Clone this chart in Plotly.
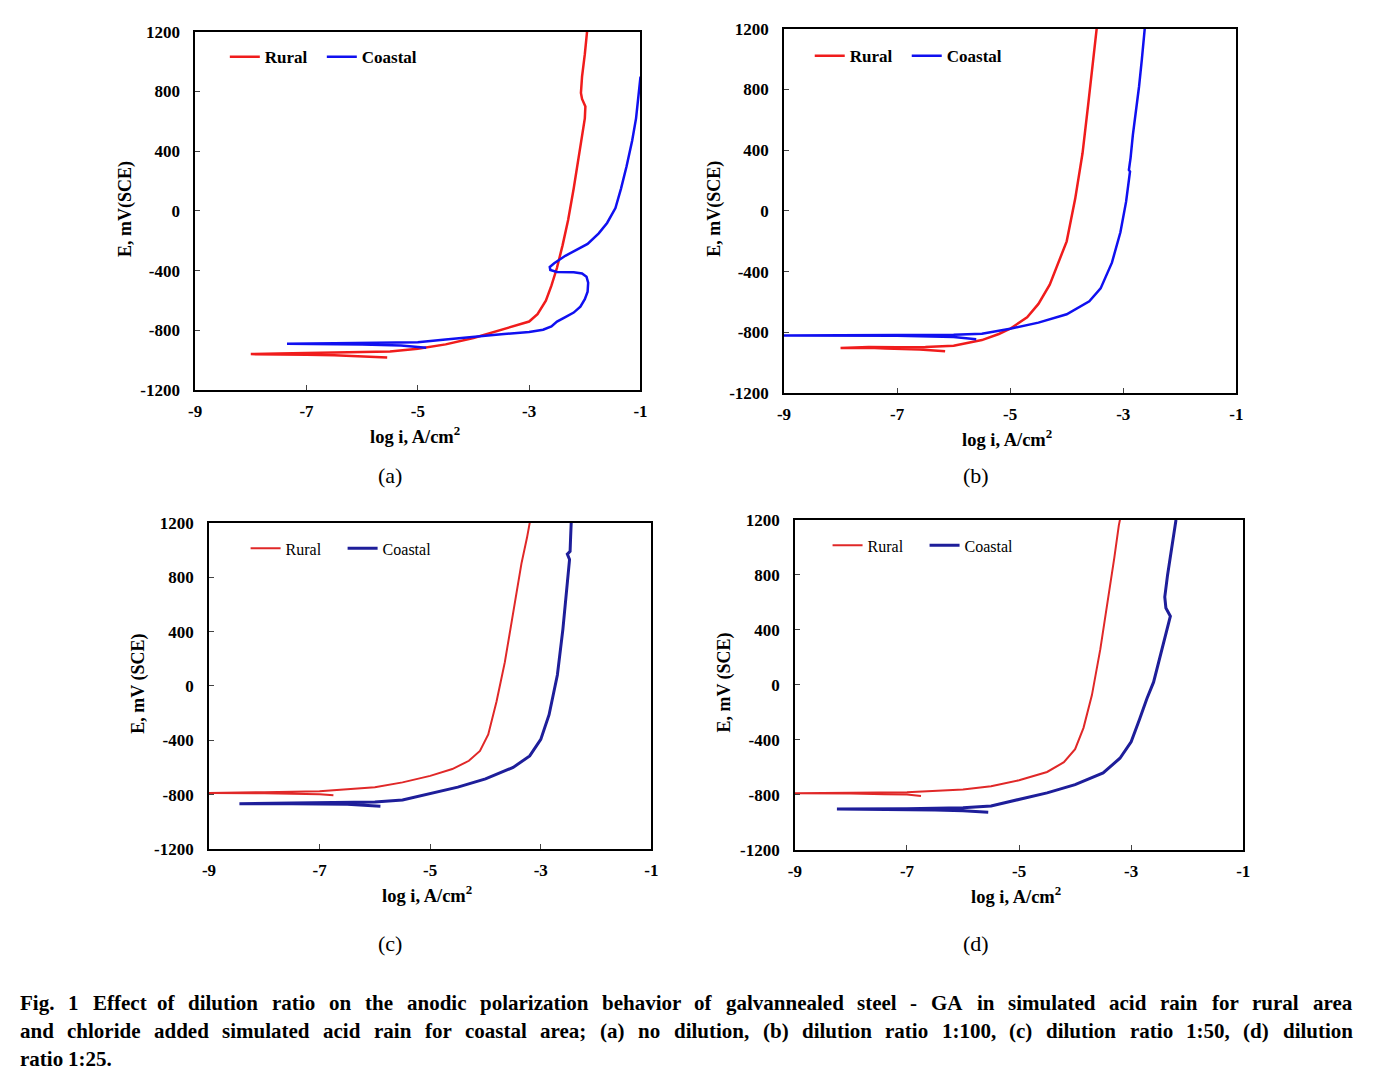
import plotly.graph_objects as go

# page is 1377x1087; the browser's default 8px body margin surrounds the figure
PAD = 8
W, H = 1377 - 2 * PAD, 1087 - 2 * PAD

# %% data (log i in A/cm2, E in mV vs SCE)
a_rural_x = [-5.55, -6.0, -6.5, -7.0, -7.5, -8.0, -7.5, -7.0, -6.0, -5.5, -5.0, -4.5, -4.0, -3.5, -3.2, -3.0,
             -2.85, -2.7, -2.6, -2.5, -2.4, -2.3, -2.2, -2.1, -2.05, -2.0, -1.99, -2.05, -2.07, -2.05, -2.0, -1.96]
a_rural_y = [-980, -972, -966, -963, -961, -958, -954, -951, -948, -940, -922, -893, -850, -795, -765, -740,
             -690, -600, -500, -380, -230, -60, 150, 380, 520, 620, 700, 750, 790, 900, 1050, 1200]
a_coastal_x = [-4.85, -5.3, -6.0, -7.0, -7.35, -6.5, -5.5, -5.0, -4.5, -4.0, -3.5, -3.0, -2.75, -2.6, -2.5,
               -2.35, -2.2, -2.08, -2.0, -1.95, -1.94, -1.97, -2.05, -2.2, -2.5, -2.62, -2.63, -2.55, -2.35,
               -2.1, -1.95, -1.75, -1.6, -1.45, -1.35, -1.25, -1.15, -1.08, -1.03, -1.0]
a_coastal_y = [-915, -900, -893, -890, -888, -885, -882, -878, -860, -840, -825, -810, -795, -772, -740,
               -710, -680, -640, -590, -540, -480, -440, -418, -410, -408, -395, -375, -350, -300,
               -250, -220, -150, -80, 20, 150, 300, 470, 620, 780, 900]

b_rural_x = [-6.15, -6.6, -7.2, -7.5, -8.0, -7.5, -7.0, -6.5, -6.0, -5.5, -5.2, -5.0, -4.7, -4.5, -4.3,
             -4.15, -4.0, -3.85, -3.72, -3.62, -3.55, -3.47]
b_rural_y = [-924, -912, -905, -900, -902, -896, -898, -895, -887, -850, -810, -775, -700, -612, -485,
             -340, -200, 80, 380, 700, 950, 1200]
b_coastal_x = [-5.6, -6.0, -7.0, -8.0, -9.0, -8.0, -7.0, -6.0, -5.5, -5.0, -4.5, -4.0, -3.6, -3.4, -3.2,
               -3.05, -2.95, -2.9, -2.88, -2.9, -2.87, -2.83, -2.78, -2.72, -2.67, -2.62]
b_coastal_y = [-844, -830, -822, -820, -820, -818, -817, -815, -808, -775, -735, -680, -595, -510, -340,
               -140, 60, 200, 260, 270, 350, 500, 640, 820, 1000, 1200]

c_rural_x = [-6.75, -7.0, -8.0, -9.0, -8.0, -7.0, -6.0, -5.5, -5.0, -4.6, -4.3, -4.1, -3.95, -3.8, -3.65,
             -3.5, -3.35, -3.25, -3.2]
c_rural_y = [-805, -797, -790, -788, -782, -776, -745, -710, -662, -612, -551, -478, -357, -115, 175,
             539, 900, 1090, 1200]
c_coastal_x = [-5.9, -6.5, -7.5, -8.45, -7.5, -6.5, -6.0, -5.5, -5.0, -4.5, -4.0, -3.5, -3.2, -3.0, -2.85,
               -2.7, -2.6, -2.52, -2.48, -2.52, -2.47, -2.46, -2.45]
c_coastal_y = [-886, -870, -868, -867, -862, -858, -854, -840, -795, -745, -684, -600, -515, -394, -212,
               80, 418, 733, 930, 970, 990, 1100, 1200]

d_rural_x = [-6.75, -7.0, -7.4, -8.0, -9.0, -8.0, -7.0, -6.0, -5.5, -5.0, -4.5, -4.2, -4.0, -3.85, -3.7,
             -3.55, -3.4, -3.3, -3.22, -3.2]
d_rural_y = [-807, -797, -795, -790, -788, -784, -781, -760, -736, -693, -633, -562, -467, -312, -74,
             260, 640, 926, 1160, 1200]
d_coastal_x = [-5.55, -6.0, -6.5, -7.5, -8.25, -7.0, -6.0, -5.5, -5.0, -4.5, -4.0, -3.5, -3.2, -3.0, -2.85,
               -2.72, -2.6, -2.5, -2.4, -2.33, -2.3, -2.38, -2.4, -2.35, -2.28, -2.2]
d_coastal_y = [-926, -915, -910, -905, -902, -900, -893, -880, -832, -785, -725, -640, -533, -414, -250,
               -100, 20, 180, 350, 450, 500, 560, 640, 800, 1000, 1200]

x_ticks = [-9, -7, -5, -3, -1]
y_ticks = [-1200, -800, -400, 0, 400, 800, 1200]
panel_labels = ["(a)", "(b)", "(c)", "(d)"]
x_title = "log i, A/cm<sup>2</sup>"
y_titles = ["E, mV(SCE)", "E, mV(SCE)", "E, mV (SCE)", "E, mV (SCE)"]
caption = ["Fig. 1 Effect of dilution ratio on the anodic polarization behavior of galvannealed steel - GA in simulated acid rain for rural area",
           "and chloride added simulated acid rain for coastal area; (a) no dilution, (b) dilution ratio 1:100, (c) dilution ratio 1:50, (d) dilution",
           "ratio 1:25."]

# %% panel geometry in page pixels: left, right, top, bottom of plot area
boxes = [(190, 640, 23, 388), (785, 1242, 20, 391), (204, 651, 523, 855), (796, 1249, 520, 856)]
label_pos = [(387, 475), (979, 475), (387, 951), (979, 951)]
legend_pos = [(220, 49), (811, 48), (241, 549), (829, 546)]
series = [(a_rural_x, a_rural_y, a_coastal_x, a_coastal_y),
          (b_rural_x, b_rural_y, b_coastal_x, b_coastal_y),
          (c_rural_x, c_rural_y, c_coastal_x, c_coastal_y),
          (d_rural_x, d_rural_y, d_coastal_x, d_coastal_y)]
red = ["#f01c1c", "#f01c1c", "#e02828", "#e02828"]
blue = ["#1010f0", "#1010f0", "#1e1e9a", "#1e1e9a"]
wid_r = [2.5, 2.5, 2.0, 2.0]
wid_b = [2.5, 2.5, 3.0, 3.0]
bold_leg = [True, True, False, False]

SERIF = "Liberation Serif"

# rough Times-Bold advance widths (per 1000 em) to justify the caption lines
TB = {" ": 250, ",": 250, ".": 250, "-": 333, ":": 333, ";": 333, "(": 333, ")": 333,
      "A": 722, "C": 722, "F": 611, "G": 778,
      "a": 500, "b": 556, "c": 444, "d": 556, "e": 444, "f": 333, "g": 500, "h": 556, "i": 278,
      "j": 333, "k": 556, "l": 278, "m": 833, "n": 556, "o": 500, "p": 556, "q": 556, "r": 444,
      "s": 389, "t": 333, "u": 556, "v": 500, "w": 722, "x": 500, "y": 500, "z": 444}


def text_w(s, size):
    return sum(TB.get(ch, 500) for ch in s) * size / 1000.0


def fx(p):
    return (p - PAD) / W


def fy(p):
    return 1 - (p - PAD) / H


fig = go.Figure()
layout = dict(width=W, height=H, margin=dict(l=0, r=0, t=0, b=0), plot_bgcolor="white",
              paper_bgcolor="white", font=dict(family=SERIF, color="black"), annotations=[])

for i, (l, r, t, b) in enumerate(boxes):
    n = "" if i == 0 else str(i + 1)
    xr, yr, xc, yc = series[i]
    leg = "legend" + n
    nm = (lambda s: f"<b>{s}</b>") if bold_leg[i] else (lambda s: s)
    fig.add_trace(go.Scatter(x=xr, y=yr, mode="lines", name=nm("Rural"), legend=leg,
                             xaxis="x" + n, yaxis="y" + n, line=dict(color=red[i], width=wid_r[i])))
    fig.add_trace(go.Scatter(x=xc, y=yc, mode="lines", name=nm("Coastal"), legend=leg,
                             xaxis="x" + n, yaxis="y" + n, line=dict(color=blue[i], width=wid_b[i])))
    axfont = dict(family=SERIF, size=17, color="black")
    layout["xaxis" + n] = dict(domain=[fx(l), fx(r)], anchor="y" + n, range=[-9, -1], tickvals=x_ticks,
                               ticktext=[f"<b>{v}</b>" for v in x_ticks], ticks="inside", ticklen=5,
                               ticklabelstandoff=5,
                               showline=True, linecolor="black", linewidth=1.6, mirror=True,
                               showgrid=False, zeroline=False, tickfont=axfont)
    layout["yaxis" + n] = dict(domain=[fy(b), fy(t)], anchor="x" + n, range=[-1200, 1200],
                               tickvals=y_ticks, ticktext=[f"<b>{v}</b>" for v in y_ticks], ticks="inside",
                               ticklen=5, ticklabelstandoff=10, showline=True, linecolor="black",
                               linewidth=1.6, mirror=True, showgrid=False, zeroline=False, tickfont=axfont)
    lf = dict(family=SERIF, size=17 if bold_leg[i] else 16, color="black")
    lx, ly = legend_pos[i]
    layout[leg] = dict(x=fx(lx), y=fy(ly), xanchor="left", yanchor="middle",
                       orientation="h", bgcolor="rgba(0,0,0,0)", font=lf, itemwidth=30,
                       entrywidth=52, tracegroupgap=0)
    # axis titles
    layout["annotations"].append(dict(text=f"<b>{x_title}</b>", x=fx((l + r) / 2 - 3), y=fy(b + 46),
                                      xref="paper", yref="paper", showarrow=False,
                                      xanchor="center", yanchor="middle", font=dict(family=SERIF, size=18.5)))
    layout["annotations"].append(dict(text=f"<b>{y_titles[i]}</b>", x=fx(l - 71), y=fy((t + b) / 2 - 2),
                                      xref="paper", yref="paper", showarrow=False,
                                      textangle=-90, xanchor="center", yanchor="middle",
                                      font=dict(family=SERIF, size=18)))
    px_, py_ = label_pos[i]
    layout["annotations"].append(dict(text=panel_labels[i], x=fx(px_), y=fy(py_),
                                      xref="paper", yref="paper", showarrow=False,
                                      font=dict(family=SERIF, size=22), xanchor="center", yanchor="middle"))

# caption: justified lines, word by word
CAP_SIZE = 21
x0, x1 = 12, 1358
for k, line in enumerate(caption):
    words = line.split(" ")
    ws = [text_w(w, CAP_SIZE) for w in words]
    if k < len(caption) - 1:
        gap = (x1 - x0 - sum(ws)) / (len(words) - 1)
    else:
        gap = text_w(" ", CAP_SIZE)
    xpos = x0
    for w, wd in zip(words, ws):
        layout["annotations"].append(dict(text=f"<b>{w}</b>", x=fx(xpos), y=fy(1012 + 28.5 * k),
                                          xref="paper", yref="paper", showarrow=False, xanchor="left",
                                          yanchor="middle", borderpad=0,
                                          font=dict(family=SERIF, size=CAP_SIZE)))
        xpos += wd + gap

fig.update_layout(**layout)
fig.write_html("out.html", config={"displayModeBar": False})
